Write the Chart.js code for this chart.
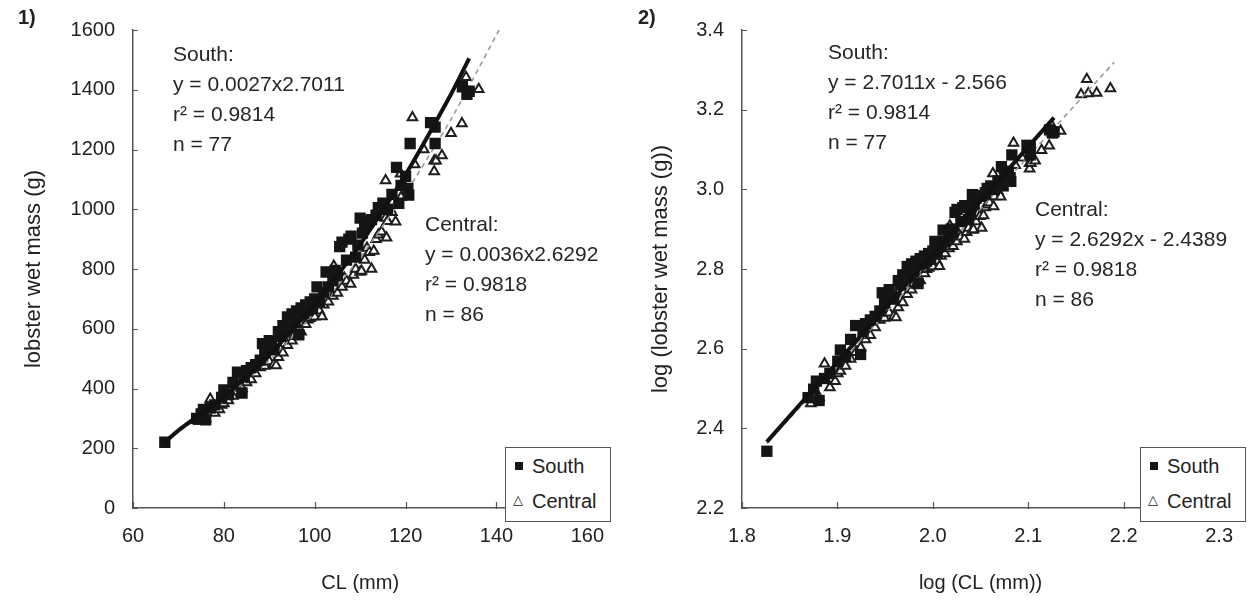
<!DOCTYPE html>
<html>
<head>
<meta charset="utf-8">
<script src="https://cdn.jsdelivr.net/npm/chart.js@4.4.0/dist/chart.umd.min.js"></script>
<style>
  body { margin: 0; background: #fff; font-family: "Liberation Sans", Arial, sans-serif; color: #222; }
  #wrap { position: relative; width: 1249px; height: 601px; overflow: hidden; }
  canvas { position: absolute; top: 0; }
  .note { position: absolute; font-size: 21px; line-height: 30px; white-space: nowrap; color: #262626; }
  .tag { position: absolute; font-size: 20px; font-weight: bold; }
  .legend { position: absolute; top: 447px; width: 104px; height: 73px; border: 1px solid #555; background: #fff; font-size: 20px; }
  .legend div { position: absolute; left: 26px; line-height: 24px; }
  .sq { position: absolute; left: 9px; width: 8px; height: 8px; background: #161616; }
  .tri { position: absolute; left: 7px; font-size: 13px; font-family: "DejaVu Sans", sans-serif; font-weight: bold; color: #222; }
</style>
</head>
<body>
<div id="wrap">
  <canvas id="massChart" width="620" height="601" style="left:0"></canvas>
  <canvas id="logChart" width="629" height="601" style="left:620px"></canvas>

  <div class="tag" style="left:18px; top:6px">1)</div>
  <div class="tag" style="left:638px; top:6px">2)</div>

  <div class="note" style="left:173px; top:39px">South:<br>y = 0.0027x2.7011<br>r² = 0.9814<br>n = 77</div>
  <div class="note" style="left:425px; top:209px">Central:<br>y = 0.0036x2.6292<br>r² = 0.9818<br>n = 86</div>
  <div class="note" style="left:828px; top:37px">South:<br>y = 2.7011x - 2.566<br>r² = 0.9814<br>n = 77</div>
  <div class="note" style="left:1035px; top:194px">Central:<br>y = 2.6292x - 2.4389<br>r² = 0.9818<br>n = 86</div>

  <div class="legend" style="left:505px">
    <span class="sq" style="top:14px"></span><div style="top:6px">South</div>
    <span class="tri" style="top:44px">△</span><div style="top:41px">Central</div>
  </div>
  <div class="legend" style="left:1140px">
    <span class="sq" style="top:14px"></span><div style="top:6px">South</div>
    <span class="tri" style="top:44px">△</span><div style="top:41px">Central</div>
  </div>
</div>

<script>
const southCL = [67, 74, 75, 75.5, 76, 77, 78, 79.5, 80, 81, 82, 83, 84, 84.5, 85, 86, 87, 88, 88.5, 89,
  90, 90.5, 91, 92, 92.5, 93, 93.5, 94, 95, 95.5, 96, 96.5, 97, 97.5, 98, 98.5, 99, 99.5, 100, 100.5,
  101, 102, 102.5, 103, 104, 104.5, 105, 105.5, 106, 107, 107.5, 108, 109, 109.5, 110, 110.5, 111, 112, 112.5, 113.5,
  114, 115, 116, 117, 118, 118.5, 119, 120, 120.5, 120.7, 121, 125.5, 126.5, 126.5, 132.5, 133.5, 134];
const southMass = [220, 300, 315, 330, 295, 335, 345, 370, 395, 380, 420, 455, 385, 440, 460, 470, 480, 495, 550, 520,
  560, 540, 530, 590, 575, 610, 600, 640, 650, 620, 660, 580, 670, 650, 680, 660, 690, 670, 700, 740,
  690, 720, 790, 740, 760, 795, 780, 875, 890, 830, 900, 910, 840, 880, 970, 920, 950, 960, 965, 980,
  1005, 1020, 1000, 1050, 1140, 1020, 1080, 1110, 1070, 1047, 1220, 1290, 1275, 1220, 1410, 1385, 1395];

const centralCL = [74.5, 75, 76, 77, 78, 79, 79.5, 80, 81, 82, 83, 83.5, 84, 85, 86, 86.5, 87, 88, 89, 89.5,
  90, 91, 91.5, 92, 92.5, 93, 94, 95, 95.5, 96, 96.5, 97, 98, 98.5, 99, 99.5, 100, 100.5, 101, 101.6,
  102, 103, 103.5, 104, 104.2, 105, 106, 106.5, 107, 107.9, 108.5, 109, 110, 110.3, 111, 111.5, 112, 112.5, 113, 113.5,
  114, 114.7, 115.6, 115.6, 115.8, 116, 117, 117.8, 118.9, 119, 121.5, 122, 124, 126.3, 126.3, 126.7, 128, 130, 132.4, 133.3,
  136.1, 143, 145, 145.5, 148.5, 153.5];
const centralMass = [290, 305, 300, 365, 318, 330, 345, 350, 360, 375, 390, 410, 400, 420, 430, 455, 450, 470, 475, 500,
  490, 480, 477, 505, 530, 520, 545, 560, 580, 575, 600, 590, 615, 630, 635, 645, 640, 670, 660, 641,
  680, 690, 720, 710, 810, 720, 740, 770, 760, 750, 780, 800, 790, 793, 830, 870, 856, 800, 860, 900,
  915, 925, 971, 1096, 905, 960, 990, 958, 1119, 1040, 1307, 1150, 1200, 1162, 1126, 1162, 1180, 1254, 1287, 1442,
  1402, 1730, 1890, 1740, 1745, 1790];

// fitted curves as drawn in panel 1
const southFitCL = [67, 70, 80, 90, 100, 110, 120, 130, 134];
const southFitMass = [220, 260, 373, 513, 682, 882, 1116, 1385, 1505];
const centralFitCL = [67, 70, 80, 90, 100, 110, 120, 130, 141];
const centralFitMass = [228, 255, 363, 495, 653, 839, 1054, 1301, 1612];

// fitted lines as drawn in panel 2 (log scale)
const southLogFitX = [1.826, 2.127];
const southLogFitY = [2.366, 3.180];
const centralLogFitX = [1.826, 2.19];
const centralLogFitY = [2.362, 3.319];

const massTicks = { min: 0, max: 1600, step: 200 };
const clTicks = { min: 60, max: 160, step: 20 };
const logMassTicks = { min: 2.2, max: 3.4, step: 0.2 };
const logClTicks = { min: 1.8, max: 2.3, step: 0.1 };

const toPoints = (xs, ys) => xs.map((x, i) => ({ x: x, y: ys[i] }));
const toLogPoints = (xs, ys) => xs.map((x, i) => ({ x: Math.log10(x), y: Math.log10(ys[i]) }));

const FONT = '"Liberation Sans", Arial, sans-serif';
const INK = '#222';

// ticks in the original point into the plot, so draw them by hand
const innerTicks = {
  id: 'innerTicks',
  afterDraw(chart) {
    const { ctx, chartArea, scales } = chart;
    ctx.save();
    ctx.strokeStyle = '#555';
    ctx.lineWidth = 1.2;
    ctx.beginPath();
    scales.x.ticks.forEach(t => {
      const px = Math.round(scales.x.getPixelForValue(t.value)) + 0.5;
      ctx.moveTo(px, chartArea.bottom + 1);
      ctx.lineTo(px, chartArea.bottom - 6);
    });
    scales.y.ticks.forEach(t => {
      const py = Math.round(scales.y.getPixelForValue(t.value)) + 0.5;
      ctx.moveTo(chartArea.left - 1, py);
      ctx.lineTo(chartArea.left + 5, py);
    });
    ctx.stroke();
    ctx.restore();
  }
};

function buildChart(id, cfg) {
  return new Chart(document.getElementById(id), {
    type: 'scatter',
    data: {
      datasets: [
        { label: 'South fit', type: 'line', data: cfg.southLine, borderColor: '#111', borderWidth: 4,
          pointRadius: 0, tension: 0.2, order: 0 },
        { label: 'South', data: cfg.south, pointStyle: 'rect', pointRadius: 8,
          backgroundColor: '#151515', borderColor: '#151515', borderWidth: 0, order: 1 },
        { label: 'Central fit', type: 'line', data: cfg.centralLine, borderColor: '#9a9a9a', borderWidth: 1.6,
          borderDash: [5, 4], pointRadius: 0, tension: 0.2, order: 2 },
        { label: 'Central', data: cfg.central, pointStyle: 'triangle', pointRadius: 5.5,
          backgroundColor: '#fff', borderColor: '#1e1e1e', borderWidth: 2, order: 3 }
      ]
    },
    options: {
      responsive: false,
      animation: false,
      layout: { padding: { top: 22, right: cfg.padRight, left: 0, bottom: 0 } },
      plugins: { legend: { display: false }, tooltip: { enabled: false } },
      scales: {
        x: {
          type: 'linear', position: 'bottom', min: cfg.xTicks.min, max: cfg.xTicks.max,
          ticks: { stepSize: cfg.xTicks.step, padding: 16, color: INK, font: { family: FONT, size: 20 },
                   maxRotation: 0, callback: cfg.xFmt },
          grid: { drawOnChartArea: false, drawTicks: false },
          border: { color: '#555', width: 1.5 },
          title: { display: true, text: cfg.xTitle, color: INK, font: { family: FONT, size: 20 },
                   padding: { top: 0, bottom: 6 } },
          afterFit: s => { s.height = 93; }
        },
        y: {
          type: 'linear', min: cfg.yTicks.min, max: cfg.yTicks.max,
          ticks: { stepSize: cfg.yTicks.step, padding: 18, color: INK, font: { family: FONT, size: 20 },
                   callback: cfg.yFmt },
          grid: { drawOnChartArea: false, drawTicks: false },
          border: { color: '#555', width: 1.5 },
          title: { display: true, text: cfg.yTitle, color: INK, font: { family: FONT, size: 22 },
                   padding: { top: cfg.yTitlePad, bottom: 0 } },
          afterFit: s => { s.width = cfg.yWidth; }
        }
      }
    },
    plugins: [innerTicks]
  });
}

buildChart('massChart', {
  south: toPoints(southCL, southMass),
  central: toPoints(centralCL, centralMass),
  southLine: toPoints(southFitCL, southFitMass),
  centralLine: toPoints(centralFitCL, centralFitMass),
  xTicks: clTicks, yTicks: massTicks,
  xFmt: v => String(v), yFmt: v => String(v),
  xTitle: 'CL (mm)', yTitle: 'lobster wet mass (g)',
  yWidth: 133, yTitlePad: 21, padRight: 30
});

buildChart('logChart', {
  south: toLogPoints(southCL, southMass),
  central: toLogPoints(centralCL, centralMass),
  southLine: toPoints(southLogFitX, southLogFitY),
  centralLine: toPoints(centralLogFitX, centralLogFitY),
  xTicks: logClTicks, yTicks: logMassTicks,
  xFmt: v => v.toFixed(1), yFmt: v => v.toFixed(1),
  xTitle: 'log (CL (mm))', yTitle: 'log (lobster wet mass (g))',
  yWidth: 122, yTitlePad: 28, padRight: 21
});
</script>
</body>
</html>
